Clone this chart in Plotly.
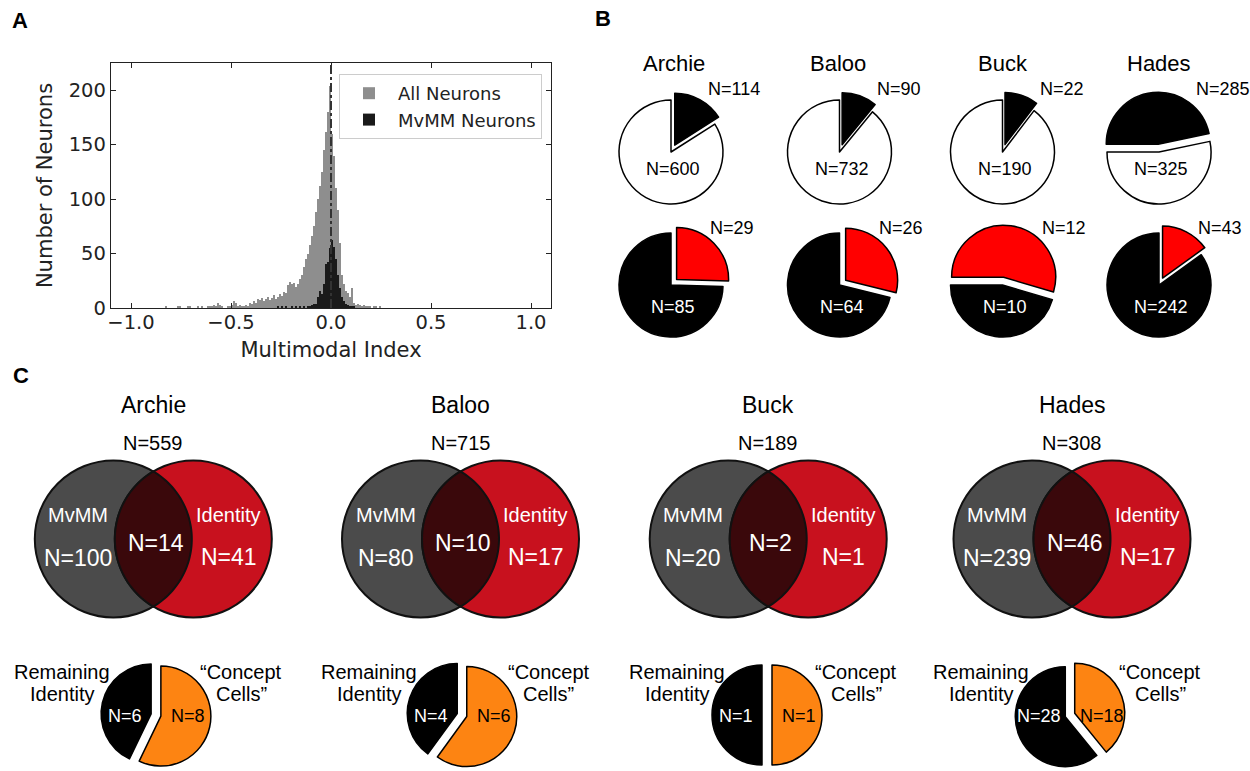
import numpy as np
import plotly.graph_objects as go

W, H = 1250, 771

# ---------------- Panel A data (histogram of multimodal index) ----------------
bin_width = 0.01
all_first_bin = -0.85
all_neuron_counts = [
    0, 0, 1, 0, 0, 0, 0, 0, 1, 1,
    0, 0, 0, 2, 1, 0, 0, 0, 1, 0,
    1, 0, 0, 2, 2, 1, 3, 2, 5, 3,
    1, 0, 0, 2, 1, 3, 6, 5, 2, 3,
    1, 2, 3, 1, 5, 4, 6, 5, 8, 7,
    9, 6, 8, 10, 7, 9, 12, 8, 10, 13,
    11, 15, 14, 21, 24, 22, 23, 19, 22, 27,
    30, 38, 45, 50, 58, 66, 75, 88, 100, 112,
    125, 145, 162, 180, 204, 160, 140, 110, 90, 60,
    30, 22, 16, 14, 10, 18, 5, 3, 4, 3,
    2, 3, 1, 2, 1, 0, 1, 2, 0, 1,
]
mvmm_first_bin = -0.27
mvmm_neuron_counts = [
    1, 0, 1, 0, 1, 0, 0, 1, 0, 1,
    0, 1, 0, 1, 0, 2, 2, 3, 4, 4,
    10, 16, 13, 22, 40, 42, 55, 62, 56, 45,
    30, 18, 10, 6, 4, 3, 2, 1, 1,
]
hist_xticks = [-1.0, -0.5, 0.0, 0.5, 1.0]
hist_yticks = [0, 50, 100, 150, 200]

# ---------------- Panel B data (pies) ----------------
monkeys = ["Archie", "Baloo", "Buck", "Hades"]
mvmm_n = [114, 90, 22, 285]
non_mvmm_n = [600, 732, 190, 325]
identity_n = [29, 26, 12, 43]
non_identity_n = [85, 64, 10, 242]

# ---------------- Panel C data (Venn + concept cells) ----------------
venn_total = [559, 715, 189, 308]
venn_mvmm_only = [100, 80, 20, 239]
venn_both = [14, 10, 2, 46]
venn_identity_only = [41, 17, 1, 17]
concept_cells = [8, 6, 1, 18]
remaining_identity = [6, 4, 1, 28]


def fx(px):
    return px / W


def fy(py):
    return 1 - py / H


ARIAL = "Liberation Sans, Arial, sans-serif"
DEJAVU = "DejaVu Sans, sans-serif"

fig = go.Figure()

# ---------------- Panel A ----------------
all_x = all_first_bin + bin_width * (np.arange(len(all_neuron_counts)) + 0.5)
mvmm_x = mvmm_first_bin + bin_width * (np.arange(len(mvmm_neuron_counts)) + 0.5)
fig.add_trace(go.Bar(x=all_x, y=all_neuron_counts, width=bin_width, name="All Neurons",
                     marker=dict(color="#8e8e8e", line=dict(width=0)),
                     xaxis="x", yaxis="y"))
fig.add_trace(go.Bar(x=mvmm_x, y=mvmm_neuron_counts, width=bin_width, name="MvMM Neurons",
                     marker=dict(color="#1a1a1a", line=dict(width=0)),
                     xaxis="x", yaxis="y"))

axis_common = dict(showline=True, linecolor="#222222", linewidth=1.3, mirror="ticks",
                   ticks="inside", ticklen=5, tickwidth=1.2, tickcolor="#222222",
                   showgrid=False, zeroline=False,
                   tickfont=dict(family=DEJAVU, size=19.5, color="#222222"))
fig.update_layout(
    xaxis=dict(domain=[fx(111), fx(551)], range=[-1.1, 1.1], tickvals=hist_xticks,
               tickformat=".1f", anchor="y", ticklabelstandoff=-4,
               title=dict(text="Multimodal Index", font=dict(family=DEJAVU, size=21, color="#222222"),
                          standoff=9),
               **axis_common),
    yaxis=dict(domain=[fy(308), fy(63)], range=[0, 225], tickvals=hist_yticks, anchor="x",
               title=dict(text="Number of Neurons", font=dict(family=DEJAVU, size=21, color="#222222"),
                          standoff=10),
               **axis_common),
    barmode="overlay", bargap=0,
    legend=dict(x=fx(339), y=fy(74), xanchor="left", yanchor="top", bgcolor="white",
                bordercolor="#cccccc", borderwidth=1, itemwidth=48,
                font=dict(family=DEJAVU, size=18, color="#222222"), traceorder="normal"),
)

shapes = []
shapes.append(dict(type="line", xref="x", yref="y", x0=0, x1=0, y0=0, y1=225,
                   line=dict(color="#333333", width=2, dash="dashdot"), layer="above"))

# ---------------- Panel B ----------------
PIE_B_R = 52
PULL_B = 0.15
b_cx = [671, 839.5, 1002.5, 1159]
b_cy_top, b_cy_bot = 152, 285
top_start = [0, 0, 0, 270]
bot_start = [0, 0, 270, 0]


def pie_domain(cx, cy, r, pull):
    h = r * (1 + pull)
    return dict(x=[fx(cx - h), fx(cx + h)], y=[fy(cy + h), fy(cy - h)])


annotations = []


def ann(x, y, text, size, color="black", family=ARIAL, xanchor="center"):
    annotations.append(dict(x=fx(x), y=fy(y), xref="paper", yref="paper", text=text,
                            showarrow=False, xanchor=xanchor, yanchor="middle",
                            font=dict(family=family, size=size, color=color)))


for i, m in enumerate(monkeys):
    fig.add_trace(go.Pie(values=[mvmm_n[i], non_mvmm_n[i]], labels=["MvMM", "Non-MvMM"],
                         marker=dict(colors=["#000000", "#ffffff"], line=dict(color="black", width=1.5)),
                         pull=[PULL_B, 0], rotation=top_start[i], direction="clockwise", sort=False,
                         textinfo="none", showlegend=False,
                         domain=pie_domain(b_cx[i], b_cy_top, PIE_B_R, PULL_B)))
    fig.add_trace(go.Pie(values=[identity_n[i], non_identity_n[i]], labels=["Identity", "Non-Identity"],
                         marker=dict(colors=["#ff0000", "#000000"], line=dict(color="black", width=1.5)),
                         pull=[PULL_B, 0], rotation=bot_start[i], direction="clockwise", sort=False,
                         textinfo="none", showlegend=False,
                         domain=pie_domain(b_cx[i], b_cy_bot, PIE_B_R, PULL_B)))

b_title_x = [674, 838, 1003, 1159]
for i, m in enumerate(monkeys):
    ann(b_title_x[i], 63, m, 22)
    ann(b_cx[i] + 35, 89, f"N={mvmm_n[i]}", 18, xanchor="left")
    ann(b_cx[i] + 2, 169, f"N={non_mvmm_n[i]}", 18)
    ann(b_cx[i] + 37, 228, f"N={identity_n[i]}", 18, xanchor="left")
    ann(b_cx[i] + 2, 307, f"N={non_identity_n[i]}", 18, color="white")

# ---------------- Panel C ----------------
venn_cx = [153.3, 460.5, 768.2, 1072]
VENN_CY = 539
VENN_R = 78.5
VENN_D = 80
GRAY = "#4b4b4b"
RED = "#c8111e"
DARK = "#3a080b"
for X in venn_cx:
    lx, rx = X - VENN_D / 2, X + VENN_D / 2
    shapes.append(dict(type="circle", xref="paper", yref="paper",
                       x0=fx(lx - VENN_R), x1=fx(lx + VENN_R), y0=fy(VENN_CY + VENN_R), y1=fy(VENN_CY - VENN_R),
                       fillcolor=GRAY, line=dict(color="#111111", width=2), layer="above"))
    shapes.append(dict(type="circle", xref="paper", yref="paper",
                       x0=fx(rx - VENN_R), x1=fx(rx + VENN_R), y0=fy(VENN_CY + VENN_R), y1=fy(VENN_CY - VENN_R),
                       fillcolor=RED, line=dict(color="#111111", width=2), layer="above"))
    th = np.arccos((VENN_D / 2) / VENN_R)
    t1 = np.linspace(-th, th, 60)
    t2 = np.linspace(np.pi - th, np.pi + th, 60)
    px_ = np.concatenate([lx + VENN_R * np.cos(t1), rx + VENN_R * np.cos(t2)])
    py_ = np.concatenate([VENN_CY + VENN_R * np.sin(t1), VENN_CY + VENN_R * np.sin(t2)])
    path = "M" + " L".join(f"{fx(a):.5f},{fy(b):.5f}" for a, b in zip(px_, py_)) + " Z"
    shapes.append(dict(type="path", xref="paper", yref="paper", path=path,
                       fillcolor=DARK, line=dict(color="#111111", width=2), layer="above"))

SMALL_R = 50
SMALL_PULL = 0.1
SMALL_CY = 715
small_cx = [156, 462, 767, 1070]
for i, m in enumerate(monkeys):
    fig.add_trace(go.Pie(values=[concept_cells[i], remaining_identity[i]],
                         labels=["Concept Cells", "Remaining Identity"],
                         marker=dict(colors=["#fd8412", "#000000"], line=dict(color="black", width=1.5)),
                         pull=[SMALL_PULL, SMALL_PULL], rotation=0, direction="clockwise", sort=False,
                         textinfo="none", showlegend=False,
                         domain=pie_domain(small_cx[i], SMALL_CY, SMALL_R, SMALL_PULL)))

for i, m in enumerate(monkeys):
    X = venn_cx[i]
    ann(X, 405, m, 23)
    ann(X, 443, f"N={venn_total[i]}", 20)
    ann(X - 75, 515, "MvMM", 20, color="white")
    ann(X - 75, 558, f"N={venn_mvmm_only[i]}", 23, color="white")
    ann(X + 2.5, 543, f"N={venn_both[i]}", 23, color="white")
    ann(X + 74.5, 515, "Identity", 20, color="white")
    ann(X + 75.5, 557, f"N={venn_identity_only[i]}", 23, color="white")
    ann(X - 91, 672, "Remaining", 20)
    ann(X - 91, 694, "Identity", 20)
    ann(X + 88, 672, "\u201cConcept", 20)
    ann(X + 88, 694, "Cells\u201d", 20)
    ann(small_cx[i] - 31, 716, f"N={remaining_identity[i]}", 18, color="white")
    ann(small_cx[i] + 32, 716, f"N={concept_cells[i]}", 18)

# Panel letters
ann(20, 20, "<b>A</b>", 22)
ann(603, 18, "<b>B</b>", 22)
ann(20.5, 375, "<b>C</b>", 22)

fig.update_layout(
    width=W, height=H, margin=dict(l=0, r=0, t=0, b=0),
    paper_bgcolor="white", plot_bgcolor="white", template="none",
    font=dict(family=ARIAL, color="black"),
    shapes=shapes, annotations=annotations,
)

fig.write_html("out.html", config={"displayModeBar": False},
               post_script="document.body.style.margin='0px';document.body.style.overflow='hidden';")
